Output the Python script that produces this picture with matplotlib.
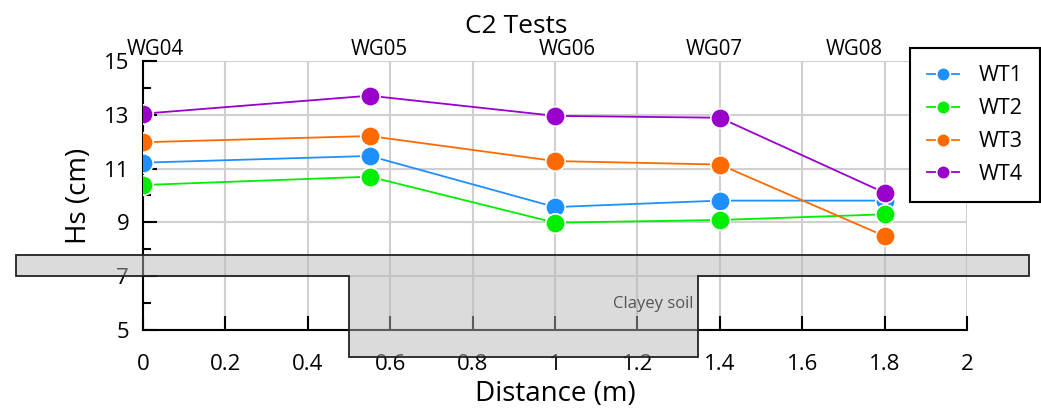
import matplotlib.pyplot as plt
from matplotlib.patches import Polygon
from matplotlib.ticker import MultipleLocator

plt.rcParams["font.family"] = ["Open Sans", "DejaVu Sans"]

# Wave gauge positions along the flume (m) and wave heights Hs (cm)
distance = [0.0, 0.55, 1.0, 1.4, 1.8]
gauges = ["WG04", "WG05", "WG06", "WG07", "WG08"]
gauge_label_x = [0.03, 0.574, 1.03, 1.386, 1.727]

wt1 = [11.22, 11.47, 9.57, 9.81, 9.81]
wt2 = [10.39, 10.70, 8.99, 9.09, 9.30]
wt3 = [11.98, 12.21, 11.28, 11.15, 8.49]
wt4 = [13.04, 13.71, 12.96, 12.89, 10.10]

series = [("WT1", wt1, "#1e8fff"),
          ("WT2", wt2, "#00ee00"),
          ("WT3", wt3, "#ff6a00"),
          ("WT4", wt4, "#9900cc")]

# Flume bed outline with the clayey soil pit (distance m, height cm)
bed_x = [-0.308, 2.15, 2.15, 1.346, 1.346, 0.5, 0.5, -0.308]
bed_y = [7.78, 7.78, 7.0, 7.0, 4.0, 4.0, 7.0, 7.0]

fig = plt.figure(figsize=(10.41, 4.12), dpi=100)
ax = fig.add_axes([0.1374, 0.199, 0.7916, 0.653])

for name, hs, color in series:
    ax.plot(distance, hs, "-o", color=color, lw=1.3, ms=14,
            mec="white", mew=1.2, label=name, zorder=3)

ax.set_xlim(0, 2)
ax.set_ylim(5, 15)
ax.yaxis.set_minor_locator(MultipleLocator(1))
ax.set_xticks([0, 0.2, 0.4, 0.6, 0.8, 1.0, 1.2, 1.4, 1.6, 1.8, 2.0])
ax.set_xticklabels(["0", "0.2", "0.4", "0.6", "0.8", "1", "1.2", "1.4",
                    "1.6", "1.8", "2"])
ax.set_yticks([5, 7, 9, 11, 13, 15])

ax.grid(True, which="major", color="#d0d0d0", lw=1.5, zorder=0)
ax.set_axisbelow(True)
for side in ["top", "right"]:
    ax.spines[side].set_visible(False)
for side in ["left", "bottom"]:
    ax.spines[side].set_linewidth(1.5)

ax.tick_params(axis="both", which="major", direction="in", length=10,
               width=1.5, labelsize=16)
ax.tick_params(axis="x", which="major", pad=17)
ax.tick_params(axis="y", which="major", pad=10)
ax.tick_params(axis="y", which="minor", direction="in", length=6, width=1.5)

bed = Polygon(list(zip(bed_x, bed_y)), closed=True, facecolor="#b8b8b8",
              alpha=0.5, edgecolor="none", clip_on=False, zorder=4)
ax.add_patch(bed)
bed_edge = Polygon(list(zip(bed_x, bed_y)), closed=True, fill=False,
                   edgecolor="#222222", lw=1.3, clip_on=False, zorder=4)
ax.add_patch(bed_edge)
ax.text(1.335, 5.95, "Clayey soil", ha="right", va="center", fontsize=12,
        color="#555555", zorder=5)

for label, gx in zip(gauges, gauge_label_x):
    ax.text(gx, 15.05, label, ha="center", va="bottom", fontsize=14.8)

ax.set_title("C2 Tests", fontsize=19, x=0.453, pad=20)
ax.set_xlabel("Distance (m)", fontsize=20, labelpad=4)
ax.set_ylabel("Hs (cm)", fontsize=20, labelpad=8)

leg = fig.legend(loc="upper left", bbox_to_anchor=(0.874, 0.883),
                 fontsize=15.5, markerscale=0.7, handlelength=1.5,
                 labelspacing=0.55, borderpad=0.8, handletextpad=0.9,
                 borderaxespad=0, fancybox=False, edgecolor="black",
                 framealpha=1)
leg.get_frame().set_linewidth(1.5)

fig.savefig("out.png", dpi=100)
